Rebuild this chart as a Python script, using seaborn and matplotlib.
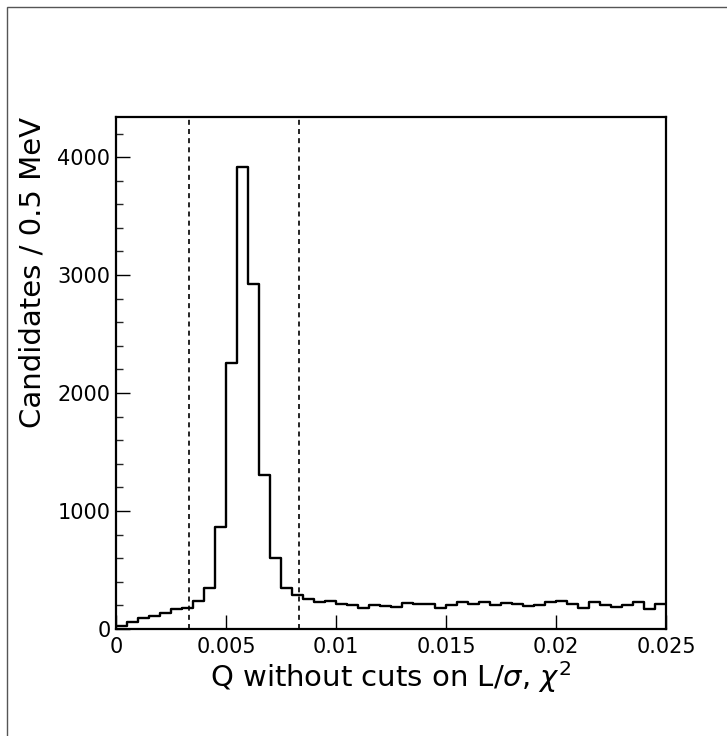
import numpy as np
import pandas as pd
import matplotlib
matplotlib.use("Agg")
import matplotlib.pyplot as plt
import seaborn as sns
from matplotlib.patches import Rectangle

# Histogram: 50 bins of 0.0005 from 0 to 0.025
bin_width = 0.0005
x_range = (0.0, 0.025)
counts = [28, 63, 97, 111, 134, 171, 180, 239, 348, 863,
          2251, 3912, 2928, 1307, 606, 348, 290, 256, 228, 237,
          214, 200, 174, 202, 191, 185, 222, 214, 214, 177,
          205, 228, 214, 228, 200, 222, 211, 194, 200, 228,
          234, 214, 180, 228, 205, 185, 200, 228, 171, 214]
cut_lines = [0.00332, 0.00832]
x_ticks = [0, 0.005, 0.01, 0.015, 0.02, 0.025]
x_tick_labels = ["0", "0.005", "0.01", "0.015", "0.02", "0.025"]
y_ticks = [0, 1000, 2000, 3000, 4000]

centers = x_range[0] + bin_width * (np.arange(len(counts)) + 0.5)
df = pd.DataFrame({"Q": centers, "n": counts})

sns.set_theme(style="white")
plt.rcParams['font.family'] = ['DejaVu Sans']
plt.rcParams['mathtext.fontset'] = 'dejavusans'

W, H = 727, 736
fig = plt.figure(figsize=(W / 100, H / 100), dpi=100)
fig.patch.set_facecolor("white")
left, right, top, bottom = 116, 666, 117, 629
ax = fig.add_axes([left / W, 1 - bottom / H, (right - left) / W, (bottom - top) / H])

sns.histplot(data=df, x="Q", weights="n", binwidth=bin_width, binrange=x_range,
             element="step", fill=False, color="black", linewidth=1.7, ax=ax)

for c in cut_lines:
    ax.axvline(c, color="black", linestyle=(0, (3, 2.5)), linewidth=1.2)

ax.set_xlim(0, 0.025)
ax.set_ylim(0, 4340)
ax.set_xticks(x_ticks)
ax.set_xticklabels(x_tick_labels)
ax.set_yticks(y_ticks)
ax.set_yticks(np.arange(0, 4400, 200), minor=True)
ax.tick_params(axis="both", which="major", direction="in", length=10, width=1,
               labelsize=15, color="black", labelcolor="black")
ax.tick_params(axis="y", which="minor", direction="in", length=5, width=1, left=True)
ax.tick_params(axis="x", which="major", pad=6)
ax.tick_params(axis="y", which="major", pad=4)
ax.tick_params(bottom=True, left=True, top=False, right=False)

for s in ax.spines.values():
    s.set_color("black")
    s.set_linewidth(1.6)

ax.set_xlabel(r"Q without cuts on L/$\sigma$, $\chi^2$", fontsize=21, labelpad=1, color="black")
ax.set_ylabel("Candidates / 0.5 MeV", fontsize=21, labelpad=8, color="black", loc="top")

fig.patches.append(Rectangle((7 / W, -0.1), 1.2, 1 - 7 / H + 0.1, transform=fig.transFigure,
                             fill=False, edgecolor="#555555", linewidth=1))

fig.savefig("out.png", dpi=100, facecolor="white")
